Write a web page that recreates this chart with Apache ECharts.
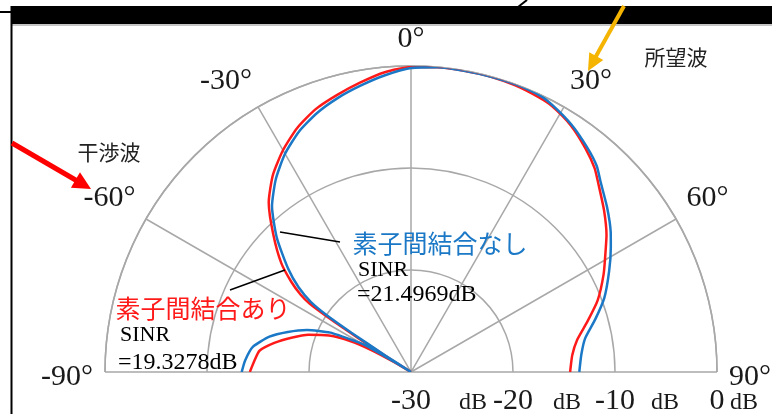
<!DOCTYPE html>
<html>
<head>
<meta charset="utf-8">
<script src="https://cdn.jsdelivr.net/npm/echarts@6/dist/echarts.min.js"></script>
<style>
  html, body { margin: 0; padding: 0; background: #fff; }
  #chart { width: 772px; height: 414px; }
</style>
</head>
<body>
<div id="chart"></div>
<script>
// Angle ticks (degrees) and radial ticks (dB)
const angleTicks = [-90, -60, -30, 0, 30, 60, 90];
const radialTicks = [-30, -20, -10, 0];
const radialUnit = 'dB';

// Pattern with element coupling (red)
const coupledAngles = [-90, -86, -82, -78, -74, -70, -66, -63, -61, -59.5, -58.6, -58, -57.3, -56.7, -56, -55, -53, -50, -45, -40, -35, -30, -25, -20, -15, -10, -5, 0, 5, 10, 15, 20, 25, 28, 33, 38, 42, 45, 50, 55, 58, 63, 69, 74, 79, 84, 90];
const coupledGain   = [-14.2, -14.6, -15.0, -16.3, -17.8, -19.3, -21.2, -23.3, -25.5, -28.0, -30, -28.0, -24.0, -20.5, -18.0, -16.8, -15.3, -13.4, -10.9, -8.3, -6.4, -4.9, -3.6, -2.6, -1.9, -1.2, -0.5, -0.1, 0, 0, 0, -0.1, -0.3, -0.5, -1.2, -2.2, -3.1, -4.0, -5.3, -6.6, -7.5, -8.8, -10.4, -12.0, -13.4, -14.1, -14.4];

// Pattern without element coupling (blue)
const uncoupledAngles = [-90, -86, -81, -76, -72, -68, -64, -61, -59.5, -58.6, -57.8, -57.3, -56.6, -56, -55, -53, -50, -45, -40, -35, -30, -25, -20, -15, -10, -5, 0, 5, 10, 15, 20, 25, 28, 33, 38, 42, 45, 50, 55, 58, 63, 69, 74, 79, 84, 90];
const uncoupledGain   = [-13.4, -13.7, -14.3, -15.7, -17.3, -19.0, -21.2, -23.8, -25.0, -28.0, -30, -27.0, -23.0, -20.0, -18.0, -16.2, -14.3, -11.4, -8.8, -6.9, -5.3, -4.0, -3.0, -2.2, -1.5, -0.8, -0.2, 0, 0, 0, 0, -0.1, -0.4, -1.1, -2.0, -2.8, -3.7, -4.9, -6.1, -6.9, -8.2, -9.7, -11.2, -12.6, -13.2, -13.5];

const RED = '#FF1A1A';
const BLUE = '#1B78C6';
const GRID = '#a8a8a8';
const INK = '#1a1a1a';
const SERIF = '"Liberation Serif", "Times New Roman", serif';
const CJK = '"Noto Sans CJK JP", sans-serif';

// distance from each radial tick to the start of its unit text
const unitOffsets = [48, 40, 36, 13];

const unitRich = { u: { fontFamily: SERIF, fontSize: 24, color: INK } };
unitOffsets.forEach((w, i) => { unitRich['p' + i] = { width: w }; });

function toPolar(angles, gains) {
  return angles.map((a, i) => [gains[i], a]);
}

function txt(text, x, y, font, fill, align) {
  return {
    type: 'text', z: 50,
    style: {
      text: text, x: x, y: y, font: font, fill: fill,
      align: align || 'center', textAlign: align || 'center',
      verticalAlign: 'middle', textVerticalAlign: 'middle'
    }
  };
}
function seg(x1, y1, x2, y2, color, w) {
  return { type: 'line', z: 50, shape: { x1, y1, x2, y2 }, style: { stroke: color, lineWidth: w } };
}
function arrowHead(tipX, tipY, fromX, fromY, len, half, color) {
  const dx = tipX - fromX, dy = tipY - fromY;
  const L = Math.hypot(dx, dy);
  const ux = dx / L, uy = dy / L;
  const bx = tipX - ux * len, by = tipY - uy * len;
  return {
    type: 'polygon', z: 51,
    shape: { points: [[tipX, tipY], [bx - uy * half, by + ux * half], [bx + uy * half, by - ux * half]] },
    style: { fill: color }
  };
}

const radialScale = {
  type: 'value', gridIndex: 0, position: 'bottom',
  min: radialTicks[0], max: radialTicks[radialTicks.length - 1], interval: 10,
  axisLine: { show: false }, axisTick: { show: false }, splitLine: { show: false }
};

const chart = echarts.init(document.getElementById('chart'), null, { renderer: 'canvas' });

chart.setOption({
  backgroundColor: '#ffffff',
  animation: false,
  polar: { center: [411, 372], radius: 306 },
  angleAxis: {
    type: 'value',
    min: angleTicks[0], max: angleTicks[angleTicks.length - 1], interval: 30,
    startAngle: 180, endAngle: 0, clockwise: true,
    axisLine: { show: true, lineStyle: { color: GRID, width: 1.5 } },
    axisTick: { show: false },
    axisLabel: {
      margin: 12, fontFamily: SERIF, fontSize: 30, color: INK,
      formatter: v => {
        if (!angleTicks.includes(v)) return '';
        // the end labels sit a little below the baseline
        return Math.abs(v) === 90 ? '{low|' + v + '°}' : v + '°';
      },
      rich: { low: { fontFamily: SERIF, fontSize: 30, color: INK, padding: [10, 0, 0, 0] } }
    },
    splitLine: { show: true, lineStyle: { color: GRID, width: 1.5 } }
  },
  radiusAxis: {
    type: 'value',
    min: radialTicks[0], max: radialTicks[radialTicks.length - 1], interval: 10,
    axisLine: { show: false }, axisTick: { show: false }, axisLabel: { show: false },
    splitLine: { show: true, lineStyle: { color: GRID, width: 1.5 } }
  },
  // straight scale along the 90° radius carrying the dB numbers and units
  grid: { left: 411, width: 306, top: 300, bottom: 42, containLabel: false, outerBoundsMode: 'none' },
  xAxis: [
    Object.assign({}, radialScale, {
      axisLabel: {
        margin: 14, showMinLabel: true, showMaxLabel: true, hideOverlap: false,
        fontFamily: SERIF, fontSize: 30, color: INK,
        formatter: v => radialTicks.includes(v) ? String(v) : ''
      }
    }),
    Object.assign({}, radialScale, {
      axisLabel: {
        margin: 19, align: 'left', showMinLabel: true, showMaxLabel: true, hideOverlap: false,
        formatter: v => {
          const i = radialTicks.indexOf(v);
          return i < 0 ? '' : '{p' + i + '| }{u|' + radialUnit + '}';
        },
        rich: unitRich
      }
    })
  ],
  yAxis: { type: 'value', show: false, min: 0, max: 1 },
  series: [
    {
      name: '素子間結合あり', type: 'line', coordinateSystem: 'polar',
      data: toPolar(coupledAngles, coupledGain),
      showSymbol: false, smooth: 0.2, z: 5,
      lineStyle: { color: RED, width: 2.5 }
    },
    {
      name: '素子間結合なし', type: 'line', coordinateSystem: 'polar',
      data: toPolar(uncoupledAngles, uncoupledGain),
      showSymbol: false, smooth: 0.2, z: 6,
      lineStyle: { color: BLUE, width: 2.5 }
    }
  ],
  graphic: [
    // frame pieces
    { type: 'rect', z: 40, shape: { x: 11, y: 6, width: 761, height: 18 }, style: { fill: '#000' } },
    seg(12, 25, 772, 25, '#8a8a8a', 1),
    seg(11.5, 6, 11.5, 414, '#000', 2),
    seg(0, 12, 11, 12, '#000', 2),
    seg(527, 0, 518, 7, '#000', 2),
    // interference direction
    seg(12, 143, 79, 182, '#FF0000', 5),
    arrowHead(91, 189, 12, 143, 18, 9, '#FF0000'),
    txt('干渉波', 109, 152, '21px ' + CJK, '#222'),
    // desired direction
    seg(624, 6, 595, 58, '#F5B400', 4),
    arrowHead(588, 71, 624, 6, 17, 8, '#F5B400'),
    txt('所望波', 676, 57, '21px ' + CJK, '#222'),
    // series callouts
    seg(280, 232, 340, 242, '#000', 1.5),
    txt('素子間結合なし', 440, 243, '25px ' + CJK, BLUE),
    txt('SINR', 358, 270, '22px ' + SERIF, '#000', 'left'),
    txt('=21.4969dB', 357, 295, '24px ' + SERIF, '#000', 'left'),
    seg(230, 290, 285, 270, '#000', 1.5),
    txt('素子間結合あり', 203, 308, '25px ' + CJK, RED),
    txt('SINR', 120, 335, '22px ' + SERIF, '#000', 'left'),
    txt('=19.3278dB', 118, 363, '24px ' + SERIF, '#000', 'left')
  ]
});
</script>
</body>
</html>
